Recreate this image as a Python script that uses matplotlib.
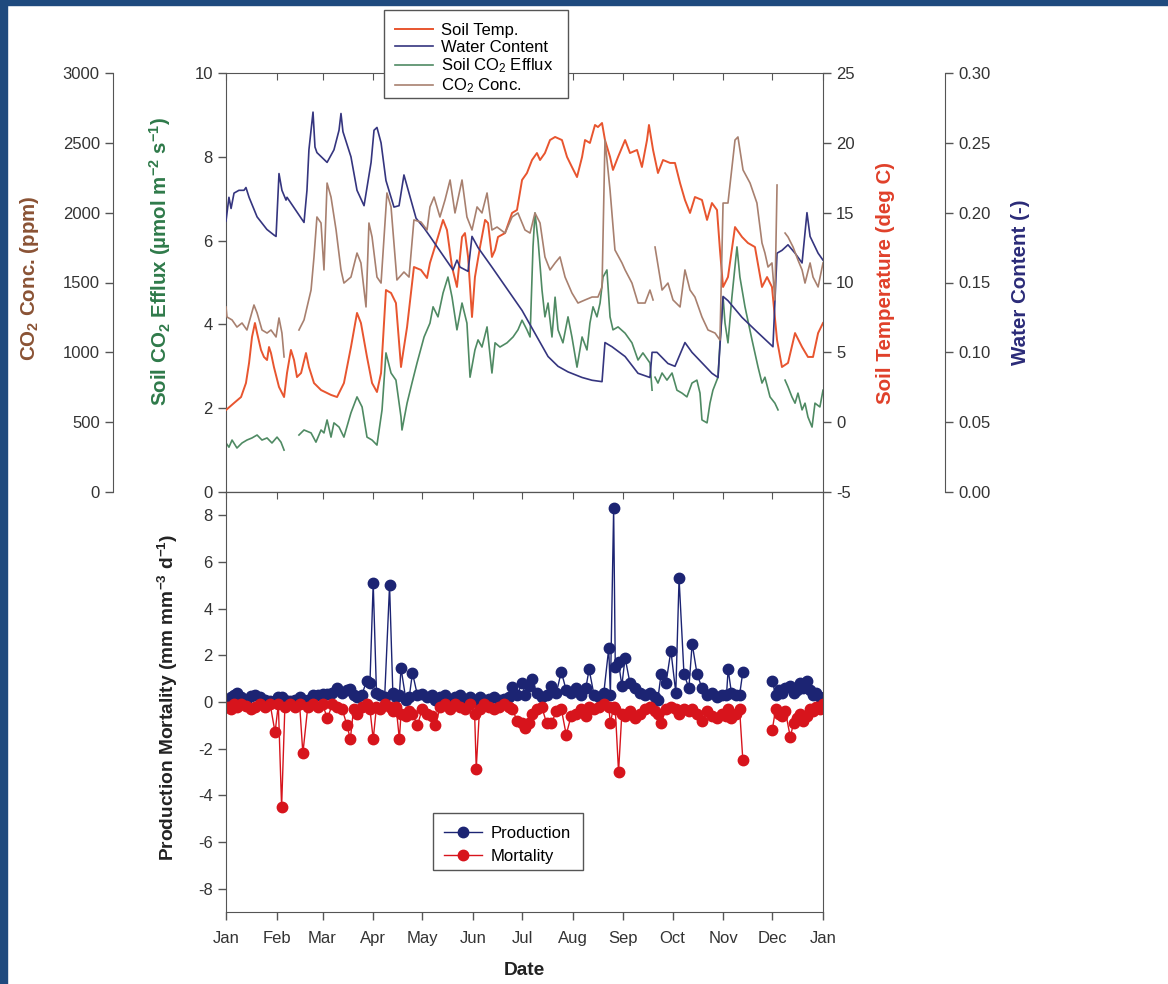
import numpy as np
import matplotlib.pyplot as plt
from matplotlib.patches import Rectangle

plt.rcParams['font.family'] = ['Liberation Sans', 'DejaVu Sans']
plt.rcParams['mathtext.fontset'] = 'custom'
plt.rcParams['mathtext.default'] = 'regular'
plt.rcParams['axes.unicode_minus'] = False

nan = np.nan

# ── Date axis ──
month_days = [0, 31, 59, 90, 120, 151, 181, 212, 243, 273, 304, 334, 365]
month_labels = ["Jan", "Feb", "Mar", "Apr", "May", "Jun", "Jul", "Aug",
                "Sep", "Oct", "Nov", "Dec", "Jan"]

# ── Soil temperature (deg C) ──
temp_day = [0, 4.9, 9.2, 12.2, 14.1, 15.9, 17.7, 19, 21.4, 23.2,
            25.1, 26.3, 27.5, 29.3, 32.4, 35.5, 37.3, 39.7, 41.6, 43.4,
            45.9, 48.9, 50.7, 53.8, 58.1, 64.2, 67.9, 72.1, 76.4, 80.1,
            82.5, 86.2, 89.3, 92.3, 94.8, 97.8, 100.9, 103.9, 107, 107.6,
            110.7, 114.9, 119.2, 122.9, 124.7, 129.6, 132.7, 135.1, 138.2, 141.2,
            144.3, 146.1, 148, 150.4, 152.2, 155.3, 158.4, 160.2, 162.6, 164.5,
            166.3, 170.6, 174.9, 177.9, 181, 184, 187.1, 190.1, 192, 195,
            198.1, 201.2, 205.4, 208.5, 211.5, 214.6, 217.7, 219.5, 222.5, 225.6,
            227.4, 229.9, 231.7, 234.8, 236.6, 239.7, 244, 247, 251.3, 254.3,
            257.4, 258.6, 261.1, 264.1, 267.2, 271.5, 274.5, 277.6, 280.6, 283.7,
            286.7, 291, 294.1, 297.1, 300.2, 302, 303.9, 306.9, 311.2, 315.5,
            319.1, 323.4, 327.7, 330.8, 333.8, 336.9, 339.9, 343.6, 347.9, 352.2,
            355.8, 358.9, 362, 365]
temp = [0.87, 1.37, 1.80, 2.80, 4.24, 6.10, 7.10, 6.38, 5.17, 4.67,
        4.45, 5.38, 4.95, 3.95, 2.52, 1.80, 3.52, 5.17, 4.45, 3.23,
        3.52, 4.95, 3.95, 2.80, 2.30, 1.95, 1.80, 2.80, 5.38, 7.82,
        7.10, 4.67, 2.80, 2.16, 3.52, 9.46, 9.25, 8.53, 3.95, 4.45,
        6.81, 11.11, 10.90, 10.32, 11.40, 13.26, 14.48, 13.76, 11.11, 9.68,
        13.26, 13.54, 11.83, 7.53, 10.39, 12.54, 14.48, 14.26, 11.83, 12.33,
        13.26, 13.54, 14.98, 15.19, 17.34, 17.84, 18.77, 19.27, 18.77, 19.27,
        20.20, 20.42, 20.20, 18.99, 18.27, 17.55, 18.99, 20.20, 19.99, 21.28,
        21.13, 21.42, 20.20, 18.99, 18.06, 18.99, 20.20, 19.27, 19.49, 18.27,
        20.20, 21.28, 19.49, 17.84, 18.77, 18.56, 18.56, 17.12, 15.91, 14.98,
        16.12, 15.91, 14.48, 15.69, 15.19, 12.33, 9.68, 10.39, 13.97, 13.26,
        12.83, 12.54, 9.68, 10.39, 9.68, 5.88, 3.95, 4.24, 6.38, 5.38,
        4.67, 4.67, 6.38, 7.10]

# ── Water content (-) ──
water_day = [0, 1.8, 3.1, 4.9, 7.9, 11, 12.2, 14.1, 19, 25,
             29.3, 30.6, 32.4, 34.2, 36.7, 37.3, 47.7, 49.5, 50.7, 53.2,
             54.4, 55.6, 61.8, 66, 69.1, 70.3, 71.5, 76.4, 80.1, 84.4,
             88.7, 90.5, 92.3, 94.8, 97.8, 102.7, 105.8, 108.8, 111.9, 116.2,
             121.1, 124.7, 138.8, 141.2, 143.1, 148, 150.4, 154.1, 162.6, 181,
             196.9, 203, 209.1, 217.7, 223.8, 229.9, 231.7, 236, 244, 251.9,
             259.2, 260.5, 263.5, 270.2, 274.5, 280.6, 284.9, 297.1, 300.8, 303.9,
             306.9, 315.5, 325.3, 334.4, 336.9, 339.9, 343.6, 347.9, 352.2, 355.2,
             357.1, 362, 365]
water = [0.194, 0.211, 0.203, 0.214, 0.216, 0.216, 0.218, 0.211, 0.197, 0.188,
         0.184, 0.183, 0.228, 0.216, 0.209, 0.211, 0.193, 0.216, 0.245, 0.272,
         0.247, 0.243, 0.236, 0.245, 0.259, 0.271, 0.258, 0.240, 0.216, 0.205,
         0.236, 0.259, 0.261, 0.250, 0.223, 0.204, 0.205, 0.227, 0.214, 0.196,
         0.189, 0.183, 0.159, 0.166, 0.161, 0.158, 0.183, 0.175, 0.161, 0.130,
         0.097, 0.090, 0.086, 0.082, 0.080, 0.079, 0.107, 0.104, 0.097, 0.085,
         0.082, 0.100, 0.100, 0.092, 0.090, 0.107, 0.100, 0.085, 0.082, 0.140,
         0.137, 0.125, 0.114, 0.104, 0.171, 0.173, 0.177, 0.171, 0.164, 0.200,
         0.183, 0.171, 0.166]

# ── Soil CO2 efflux (umol m-2 s-1), nan = gap ──
efflux_day = [0, 1.8, 3.7, 6.7, 9.8, 12.8, 15.9, 19, 22, 25.1, 28.1, 31.2, 33.6, 35.5,
              40,
              44.6, 47.7, 52, 55, 58.1, 59.9, 61.8, 64.2, 66, 69.1,
              72.1, 76.4, 80.1, 83.2, 86.2, 89.3, 92.3, 95.4, 97.8, 100.9,
              103.9, 107, 107.6, 110.7, 113.7, 116.8, 121.1, 124.7, 126.6, 129.6,
              132.7, 135.7, 138.2, 141.2, 144.3, 147.3, 149.2, 152.2, 154.1, 156.5,
              159.6, 162.6, 164.5, 167.5, 171.8, 175.5, 178.5, 181, 184, 185.9,
              187.7, 188.9, 190.8, 193.2, 195, 196.9, 199.3, 201.2, 203, 206,
              209.1, 211.5, 214.6, 217.7, 220.7, 222.5, 224.4, 226.8, 228.7, 230.5,
              232.9, 234.8, 236.6, 239.7, 244, 248.2, 251.9, 254.9, 259.2, 260.5,
              261.5,
              262.3, 264.1, 266.6, 269.6, 272.7, 275.7, 278.8, 281.8, 284.9, 287.9,
              289.8, 291, 294.1, 295.9, 297.7, 300.8, 302, 303.9, 305.1, 306.9,
              309.3, 312.4, 314.2, 317.3, 321.6, 325.3, 327.7, 329.5, 332.6, 335.6,
              337.5,
              339.5,
              341.8, 343.6, 346, 347.9, 349.7, 352.2, 354, 355.8, 358.3, 360.1, 363.1, 365]
efflux = [1.17, 1.07, 1.24, 1.05, 1.17, 1.24, 1.29, 1.36, 1.24, 1.29, 1.17, 1.31, 1.19, 1.00,
          nan,
          1.36, 1.48, 1.41, 1.19, 1.48, 1.41, 1.72, 1.31, 1.65, 1.55,
          1.31, 1.89, 2.27, 2.03, 1.31, 1.24, 1.12, 1.96, 3.32, 2.84,
          2.67, 1.79, 1.48, 2.12, 2.60, 3.08, 3.70, 4.03, 4.42, 4.18,
          4.75, 5.13, 4.65, 3.87, 4.51, 4.03, 2.74, 3.39, 3.63, 3.46,
          3.94, 2.84, 3.56, 3.46, 3.56, 3.70, 3.87, 4.10, 3.87, 3.70,
          5.85, 6.66, 6.01, 4.82, 4.18, 4.51, 3.70, 4.65, 3.87, 3.56,
          4.18, 3.70, 2.98, 3.70, 3.39, 4.03, 4.42, 4.18, 4.51, 5.13,
          5.30, 4.18, 3.87, 3.94, 3.79, 3.56, 3.15, 3.32, 3.08, 2.43,
          nan,
          2.74, 2.60, 2.84, 2.67, 2.84, 2.43, 2.36, 2.27, 2.60, 2.67,
          2.36, 1.72, 1.65, 2.12, 2.43, 2.74, 3.56, 4.65, 4.03, 3.56,
          4.65, 5.85, 5.13, 4.42, 3.63, 2.98, 2.60, 2.74, 2.27, 2.12,
          1.96,
          nan,
          2.67, 2.51, 2.27, 2.12, 2.36, 1.96, 2.12, 1.79, 1.55, 2.12, 2.03, 2.43]

# ── CO2 concentration (ppm), nan = gap ──
co2_day = [0, 0.6, 3.7, 6.7, 9.8, 12.8, 17.1, 19, 22, 25.1, 27.5, 30.6, 32.4, 34.2, 35.5,
           40,
           44.6, 47.7, 52, 53.8, 55.6, 58.1, 59.9, 61.8, 64.2, 67.3,
           70.3, 72.1, 76.4, 80.1, 82.5, 85.6, 87.4, 89.3, 92.3, 94.8,
           98.4, 100.9, 104.5, 108.8, 111.9, 114.9, 119.2, 122.9, 124.7, 127.2,
           130.8, 133.9, 137, 140, 144.3, 147.3, 150.4, 153.5, 156.5, 159.6,
           162.6, 165.7, 170.6, 174.9, 178.5, 182.8, 185.9, 188.9, 192, 195,
           198.1, 201.2, 204.2, 207.3, 211.5, 215.2, 219.5, 223.8, 227.4, 229.9,
           231.7, 234.8, 237.8, 242.1, 244, 248.2, 251.9, 256.2, 259.2, 261.1,
           261.7,
           262.3, 266.6, 270.2, 273.3, 277.6, 280.6, 283.7, 286.7, 291, 294.7,
           299, 302, 303.9, 306.9, 311.2, 313, 316.1, 320.4, 324.6, 327.7,
           329.5, 331.4, 333.8, 335.6, 336.9,
           339,
           341.8, 343.6, 346.7, 349.7, 352.2, 354, 357.1, 358.9, 362, 365]
co2 = [1325, 1253, 1232, 1181, 1210, 1160, 1339, 1282, 1160, 1138, 1160, 1110, 1246, 1138, 967,
       nan,
       1160, 1232, 1446, 1683, 1969, 1926, 1590, 2212, 2112, 1876,
       1590, 1496, 1539, 1711, 1640, 1325, 1926, 1826, 1539, 1496,
       2141, 2041, 1518, 1575, 1539, 1948, 1933, 1876, 2041, 2112,
       1969, 2091, 2234, 1998, 2234, 1969, 1876, 2041, 1998, 2141,
       1876, 1897, 1854, 1969, 1998, 1876, 1854, 1998, 1926, 1683,
       1590, 1640, 1683, 1539, 1425, 1353, 1375, 1396, 1396, 1468,
       2520, 2162, 1733, 1640, 1590, 1496, 1353, 1353, 1446, 1375,
       nan,
       1754, 1446, 1496, 1375, 1325, 1590, 1446, 1396, 1253, 1160,
       1138, 1088, 2069, 2069, 2520, 2542, 2306, 2212, 2069, 1783,
       1711, 1611, 1640, 1375, 2198,
       nan,
       1854, 1826, 1754, 1661, 1590, 1496, 1640, 1539, 1468, 1640]

# ── Root production / mortality (mm mm-3 d-1), nan = gap ──
pm_day = [1, 3, 5, 7, 9, 12, 15, 18, 21, 24, 27, 30,
          32, 34, 36, 39, 42, 45, 47, 50, 53, 56, 59,
          62, 65, 68, 71, 74, 76, 78, 80, 83, 86, 88, 90, 92,
          94, 97, 100, 102, 104, 106, 107, 110, 112, 114, 117, 120,
          123, 126, 128, 131, 134, 137, 140, 143, 146, 149,
          152, 153, 155, 158, 161, 164, 167, 170, 173, 175, 178, 181,
          183, 185, 187, 190, 193, 196, 199, 202, 205, 208, 211,
          214, 217, 220, 222, 225, 228, 231, 234, 235, 237, 238, 240, 242,
          244, 247, 250, 253, 256, 259, 262, 264, 266, 269, 272,
          275, 277, 280, 283, 285, 288, 291, 294, 297, 300, 303,
          306, 307, 309, 312, 314, 316,
          325,
          334, 336, 338, 340, 342, 345, 347, 349, 351, 353, 355, 357, 359, 361, 363, 365]
production = [0.1, 0.2, 0.3, 0.4, 0.2, 0.1, 0.25, 0.3, 0.2, 0.1, 0.05, 0.05,
              0.2, 0.2, 0.1, 0.05, 0.1, 0.2, 0.1, 0.1, 0.3, 0.3, 0.35,
              0.35, 0.4, 0.6, 0.4, 0.5, 0.55, 0.3, 0.2, 0.3, 0.9, 0.8, 5.1, 0.4,
              0.3, 0.2, 5.0, 0.4, 0.2, 0.3, 1.45, 0.1, 0.2, 1.25, 0.3, 0.35,
              0.2, 0.3, 0.1, 0.2, 0.3, 0.1, 0.2, 0.3, 0.1, 0.2,
              0.1, 0.05, 0.2, 0.1, 0.15, 0.2, 0.1, 0.15, 0.2, 0.65, 0.3, 0.8,
              0.3, 0.7, 1.0, 0.4, 0.2, 0.3, 0.7, 0.4, 1.3, 0.5, 0.4,
              0.6, 0.3, 0.6, 1.4, 0.3, 0.2, 0.4, 2.3, 0.3, 8.3, 1.5, 1.7, 0.7,
              1.9, 0.8, 0.6, 0.4, 0.3, 0.4, 0.2, 0.1, 1.2, 0.8, 2.2,
              0.4, 5.3, 1.2, 0.6, 2.5, 1.2, 0.6, 0.3, 0.4, 0.2, 0.3,
              0.3, 1.4, 0.4, 0.3, 0.3, 1.3,
              nan,
              0.9, 0.3, 0.5, 0.4, 0.6, 0.7, 0.4, 0.5, 0.8, 0.6, 0.9, 0.5, 0.3, 0.4, 0.2, 0.1]
mortality = [-0.2, -0.3, -0.1, -0.2, -0.1, -0.15, -0.3, -0.2, -0.1, -0.2, -0.1, -1.3,
             -0.1, -4.5, -0.2, -0.1, -0.2, -0.1, -2.2, -0.2, -0.1, -0.2, -0.1,
             -0.7, -0.1, -0.2, -0.3, -1.0, -1.6, -0.3, -0.5, -0.2, -0.1, -0.3, -1.6, -0.2,
             -0.3, -0.1, -0.2, -0.4, -0.2, -1.6, -0.5, -0.6, -0.4, -0.5, -1.0, -0.3,
             -0.5, -0.6, -1.0, -0.2, -0.1, -0.3, -0.1, -0.2, -0.3, -0.1,
             -0.5, -2.85, -0.3, -0.1, -0.2, -0.3, -0.2, -0.1, -0.2, -0.3, -0.8, -0.9,
             -1.1, -0.9, -0.5, -0.3, -0.2, -0.9, -0.9, -0.4, -0.3, -1.4, -0.6,
             -0.5, -0.3, -0.6, -0.2, -0.3, -0.2, -0.1, -0.2, -0.9, -0.2, -0.3, -3.0, -0.5,
             -0.6, -0.4, -0.7, -0.5, -0.3, -0.2, -0.4, -0.5, -0.9, -0.3, -0.2,
             -0.3, -0.5, -0.3, -0.4, -0.3, -0.5, -0.8, -0.4, -0.6, -0.7, -0.5,
             -0.6, -0.3, -0.7, -0.5, -0.3, -2.5,
             nan,
             -1.2, -0.3, -0.5, -0.6, -0.4, -1.5, -0.9, -0.7, -0.5, -0.8, -0.6, -0.3, -0.4, -0.2, -0.3, -0.1]

# ── Colours / sizes ──
c_temp, c_water, c_eff, c_co2 = "#e8552f", "#35357f", "#4f8a63", "#a8806f"
c_prod, c_mort = "#1c2473", "#d7141c"
c_axis, c_tick = "#555555", "#333333"
fs_tick, fs_leg, fs_lab, fs_lab2 = 12, 12, 14.8, 13.8

W, H = 1168, 984
fig = plt.figure(figsize=(W / 100, H / 100), dpi=100)


def fig_box(x0, y0, x1, y1):
    # pixel box (top-left origin) -> figure fraction rect
    return (x0 / W, 1 - y1 / H, (x1 - x0) / W, (y1 - y0) / H)


# blue frame on top and left edges
fig.add_artist(Rectangle((0, 0), 7 / W, 1, transform=fig.transFigure, color="#1f4a7e", zorder=-5))
fig.add_artist(Rectangle((0, 1 - 5 / H), 1, 5 / H, transform=fig.transFigure, color="#1f4a7e", zorder=-5))

ax = fig.add_axes(fig_box(226, 73, 823, 492))
ax2 = fig.add_axes(fig_box(226, 492, 823, 912))

# ── Top panel ──
ax_t = ax.twinx()
ax_w = ax.twinx()
ax_c = ax.twinx()

l_eff, = ax.plot(efflux_day, efflux, color=c_eff, lw=1.2)
l_temp, = ax_t.plot(temp_day, temp, color=c_temp, lw=1.4)
l_water, = ax_w.plot(water_day, water, color=c_water, lw=1.2)
l_co2, = ax_c.plot(co2_day, co2, color=c_co2, lw=1.2)

ax.set_xlim(0, 365)
ax.set_ylim(0, 10)
ax.set_yticks([0, 2, 4, 6, 8, 10])
ax_t.set_ylim(-5, 25)
ax_t.set_yticks([-5, 0, 5, 10, 15, 20, 25])
ax_w.set_ylim(0, 0.30)
ax_w.set_yticks([0, 0.05, 0.10, 0.15, 0.20, 0.25, 0.30])
ax_w.yaxis.set_major_formatter(plt.FormatStrFormatter("%.2f"))
ax_c.set_ylim(0, 3000)
ax_c.set_yticks([0, 500, 1000, 1500, 2000, 2500, 3000])

ax_w.spines["right"].set_position(("axes", (945 - 226) / 597))
ax_c.yaxis.tick_left()
ax_c.yaxis.set_label_position("left")
ax_c.spines["left"].set_position(("axes", (113 - 226) / 597))

for a, keep in [(ax, ["left", "top", "bottom"]), (ax_t, ["right"]),
                (ax_w, ["right"]), (ax_c, ["left"])]:
    for s in ["left", "right", "top", "bottom"]:
        a.spines[s].set_visible(s in keep)
        a.spines[s].set_color(c_axis)
    a.tick_params(axis="y", colors=c_axis, labelcolor=c_tick, labelsize=fs_tick, length=6, width=1)

ax.set_xticks(month_days)
ax.tick_params(axis="x", direction="in", top=True, bottom=False, labelbottom=False,
               colors=c_axis, length=5)

ax.set_ylabel("Soil CO$_2$ Efflux (µmol m$^{-2}$ s$^{-1}$)", color="#2f7a4a",
              fontsize=fs_lab, fontweight="bold")
ax.yaxis.set_label_coords((173 - 226) / 597, 0.55)
ax_c.set_ylabel("CO$_2$ Conc. (ppm)", color="#8a5234", fontsize=fs_lab, fontweight="bold")
ax_c.yaxis.set_label_coords((41 - 226) / 597, 0.51)
ax_t.set_ylabel("Soil Temperature (deg C)", color="#e0402a", fontsize=fs_lab, fontweight="bold")
ax_t.yaxis.set_label_coords((876 - 226) / 597, 0.50)
ax_w.set_ylabel("Water Content (-)", color="#2b2b78", fontsize=fs_lab, fontweight="bold")
ax_w.yaxis.set_label_coords((1011 - 226) / 597, 0.50)

# legend box drawn as a plain rectangle so its padding matches the original
fig.add_artist(Rectangle(fig_box(384, 10, 568, 98)[:2], *fig_box(384, 10, 568, 98)[2:],
                         transform=fig.transFigure, facecolor="white", edgecolor=c_axis,
                         lw=1, zorder=4))
fig.legend([l_temp, l_water, l_eff, l_co2],
           ["Soil Temp.", "Water Content", "Soil CO$_2$ Efflux", "CO$_2$ Conc."],
           loc="upper left", bbox_to_anchor=(395 / W, 1 - 23 / H),
           fontsize=fs_leg, frameon=False, handlelength=2.3, handletextpad=0.45,
           labelspacing=0.1, borderpad=0, borderaxespad=0)

# ── Bottom panel ──
ax2.plot(pm_day, production, color=c_prod, lw=1.0, marker="o", ms=7.5, label="Production")
ax2.plot(pm_day, mortality, color=c_mort, lw=1.0, marker="o", ms=7.5, label="Mortality")

ax2.set_xlim(0, 365)
ax2.set_ylim(-9, 9)
ax2.set_yticks([-8, -6, -4, -2, 0, 2, 4, 6, 8])
ax2.set_xticks(month_days)
ax2.set_xticklabels(month_labels)
for s in ax2.spines.values():
    s.set_color(c_axis)
ax2.tick_params(colors=c_axis, labelcolor=c_tick, labelsize=fs_tick, length=6, width=1)
ax2.tick_params(axis="x", pad=8)
top_ticks = ax2.secondary_xaxis("top")
top_ticks.set_xticks(month_days)
top_ticks.tick_params(direction="in", labeltop=False, colors=c_axis, length=5)

ax2.set_ylabel("Production Mortality (mm mm$^{-3}$ d$^{-1}$)", fontsize=fs_lab2,
               fontweight="bold", color="#222222")
ax2.yaxis.set_label_coords((180 - 226) / 597, 0.51)
ax2.set_xlabel("Date", fontsize=fs_lab2, fontweight="bold", color="#222222")
ax2.xaxis.set_label_coords(0.50, (912 - 962) / 420)

fig.add_artist(Rectangle(fig_box(433, 813, 583, 870)[:2], *fig_box(433, 813, 583, 870)[2:],
                         transform=fig.transFigure, facecolor="white", edgecolor=c_axis,
                         lw=1, zorder=4))
h, lab = ax2.get_legend_handles_labels()
fig.legend(h, lab, loc="upper left", bbox_to_anchor=(444 / W, 1 - 826 / H),
           fontsize=fs_leg, frameon=False, handlelength=2.3, handletextpad=0.5,
           labelspacing=0.45, borderpad=0, borderaxespad=0)

fig.savefig("out.png", dpi=100)
